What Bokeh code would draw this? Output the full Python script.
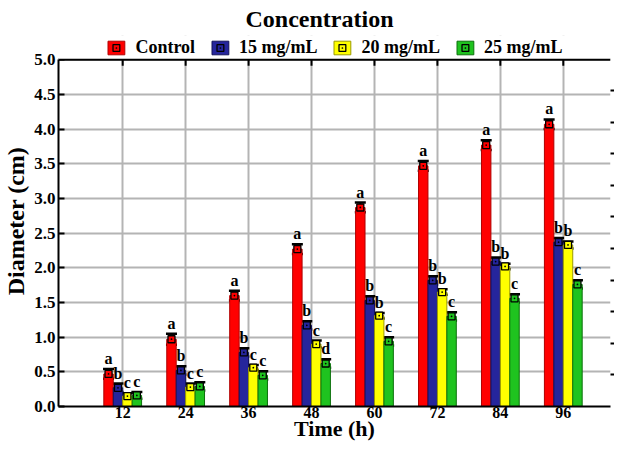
from bokeh.plotting import figure
from bokeh.models import (ColumnDataSource, Range1d, LinearAxis, FixedTicker,
                          Whisker, TeeHead, Legend, LegendItem, BoxAnnotation, Span)
from bokeh.core.properties import value
from bokeh.embed import file_html
from bokeh.resources import INLINE

# ---------------- data ----------------
times = ["12", "24", "36", "48", "60", "72", "84", "96"]
series_names = ["Control", "15 mg/mL", "20 mg/mL", "25 mg/mL"]

control = [0.47, 0.97, 1.60, 2.27, 2.87, 3.47, 3.77, 4.07]
c15 = [0.27, 0.52, 0.78, 1.17, 1.53, 1.82, 2.09, 2.37]
c20 = [0.15, 0.28, 0.56, 0.90, 1.31, 1.65, 2.02, 2.33]
c25 = [0.16, 0.29, 0.45, 0.62, 0.94, 1.30, 1.56, 1.76]

control_err = [0.07, 0.08, 0.07, 0.07, 0.07, 0.07, 0.07, 0.07]
c15_err = [0.06, 0.06, 0.06, 0.06, 0.06, 0.06, 0.06, 0.06]
c20_err = [0.04, 0.05, 0.04, 0.05, 0.04, 0.04, 0.04, 0.05]
c25_err = [0.05, 0.06, 0.06, 0.06, 0.06, 0.06, 0.06, 0.06]

control_letters = ["a", "a", "a", "a", "a", "a", "a", "a"]
c15_letters = ["b", "b", "b", "b", "b", "b", "b", "b"]
c20_letters = ["c", "c", "c", "c", "b", "b", "b", "b"]
c25_letters = ["c", "c", "c", "d", "c", "c", "c", "c"]

y_tick_labels = ["0.0", "0.5", "1.0", "1.5", "2.0", "2.5", "3.0", "3.5", "4.0", "4.5", "5.0"]

# ---------------- style ----------------
FONT = "Liberation Serif"
fills = ["#ff0000", "#25259c", "#ffff00", "#1fc31f"]
edges = ["#b00000", "#10105a", "#9a9a00", "#0b700b"]
offsets = [-0.225, -0.075, 0.075, 0.225]
bar_w = 0.15
grid_col = "#b4b4b4"
Y_MAX = 5.0          # top of the value axis
Y_VIEW = 5.35        # frame extends a little above, room for the legend
TICK_LEN = 0.087     # length of top inward ticks, in value units

values = [control, c15, c20, c25]
errs = [control_err, c15_err, c20_err, c25_err]
letters = [control_letters, c15_letters, c20_letters, c25_letters]

cat_pos = list(range(1, len(times) + 1))
y_ticks = [float(t) for t in y_tick_labels]
right_ticks = list(range(1, 11))

p = figure(width=614, height=443, output_backend="svg", toolbar_location=None,
           x_range=Range1d(-0.02, 8.75), y_range=Range1d(0, Y_VIEW),
           min_border_left=0, min_border_right=0, min_border_top=0, min_border_bottom=0)
p.outline_line_color = None
p.background_fill_color = "white"

p.title.text = "Concentration"
p.title.align = "left"
p.title.offset = 187
p.title.text_font = FONT
p.title.text_font_style = "bold"
p.title.text_font_size = "24px"
p.title.text_color = "black"
p.title.standoff = 7

# x axis (bottom)
xa = p.xaxis[0]
xa.ticker = FixedTicker(ticks=cat_pos)
xa.major_label_overrides = {c: t for c, t in zip(cat_pos, times)}
xa.major_tick_in = 0
xa.major_tick_out = 0
xa.minor_tick_line_color = None
xa.axis_line_width = 2
xa.axis_line_color = "black"
xa.major_label_text_font = FONT
xa.major_label_text_font_style = "bold"
xa.major_label_text_font_size = "16px"
xa.major_label_text_color = "black"
xa.major_label_standoff = 0
xa.axis_label = "Time (h)"
xa.axis_label_text_font = FONT
xa.axis_label_text_font_style = "bold"
xa.axis_label_text_font_size = "22px"
xa.axis_label_text_color = "black"
xa.axis_label_standoff = -5

# y axis (left)
ya = p.yaxis[0]
ya.ticker = FixedTicker(ticks=y_ticks)
ya.bounds = (0, Y_MAX)
ya.major_label_overrides = {v: t for v, t in zip(y_ticks, y_tick_labels)}
ya.major_tick_in = 6
ya.major_tick_out = 0
ya.major_tick_line_width = 2
ya.minor_tick_line_color = None
ya.axis_line_width = 2
ya.axis_line_color = "black"
ya.major_label_text_font = FONT
ya.major_label_text_font_style = "bold"
ya.major_label_text_font_size = "17px"
ya.major_label_text_color = "black"
ya.major_label_standoff = 3
ya.axis_label = "Diameter (cm)"
ya.axis_label_text_font = FONT
ya.axis_label_text_font_style = "bold"
ya.axis_label_text_font_size = "24px"
ya.axis_label_text_color = "black"
ya.axis_label_standoff = 2

p.xgrid.grid_line_color = grid_col
p.xgrid.grid_line_width = 2
p.ygrid.grid_line_color = grid_col
p.ygrid.grid_line_width = 2

# right side: short tick marks only
p.extra_y_ranges = {"r": Range1d(0, Y_VIEW / 0.4556)}
right = LinearAxis(y_range_name="r", ticker=FixedTicker(ticks=right_ticks),
                   major_tick_in=0, major_tick_out=4, major_tick_line_width=2,
                   minor_tick_line_color=None, axis_line_color=None,
                   major_label_overrides={t: "" for t in right_ticks},
                   major_label_text_font_size="6px", major_label_standoff=0)
p.add_layout(right, "right")

# top inward ticks at the category positions
p.segment(x0=cat_pos, x1=cat_pos, y0=[Y_MAX] * len(cat_pos),
          y1=[Y_MAX - TICK_LEN] * len(cat_pos), line_color="black", line_width=2)

items = []
for k in range(4):
    xs = [c + offsets[k] for c in cat_pos]
    src = ColumnDataSource(dict(
        x=xs, top=values[k],
        upper=[v + e for v, e in zip(values[k], errs[k])],
        lower=[v - e for v, e in zip(values[k], errs[k])],
        lab=letters[k]))
    bars = p.vbar(x="x", top="top", width=bar_w, source=src,
                  fill_color=fills[k], line_color=edges[k], line_width=1)
    w = Whisker(base="x", upper="upper", lower="lower", source=src,
                dimension="height", line_color="black", line_width=2,
                upper_head=TeeHead(size=11, line_width=2.5, line_color="black"),
                lower_head=TeeHead(size=11, line_width=2.5, line_color="black"))
    p.add_layout(w)
    mk = p.scatter(x="x", y="top", source=src, marker="square_dot", size=7,
                   fill_color=fills[k], line_color="black", line_width=1.3)
    p.text(x="x", y="upper", text="lab", source=src, text_font=value(FONT),
           text_font_style="bold", text_font_size="16px", text_align="center",
           text_baseline="bottom", y_offset=-2, text_color="black")
    items.append(LegendItem(label=series_names[k], renderers=[bars, mk]))

# blank band above the 5.0 line (hides grid there) and the top frame line
p.add_layout(BoxAnnotation(bottom=Y_MAX, fill_color="white", fill_alpha=1.0,
                           line_color=None))
p.add_layout(Span(location=Y_MAX, dimension="width", line_color="black", line_width=2))

legend = Legend(items=items, orientation="horizontal", location="top_center",
                label_text_font=FONT, label_text_font_style="bold",
                label_text_font_size="18px", label_text_color="black",
                glyph_width=21, glyph_height=17, label_standoff=9, spacing=14,
                padding=0, margin=2, border_line_color=None,
                background_fill_alpha=0)
p.add_layout(legend, "center")

open("out.html", "w").write(file_html(p, INLINE))
